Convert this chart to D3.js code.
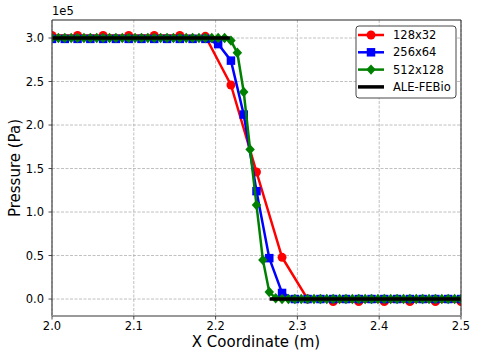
<!DOCTYPE html>
<html>
<head>
<meta charset="utf-8">
<script src="https://cdn.jsdelivr.net/npm/d3@7"></script>
<style>
body { margin: 0; background: #fff; }
text { font-family: "DejaVu Sans", sans-serif; }
</style>
</head>
<body>
<div id="root"></div>
<script>
var width = 480;
var height = 360;

// pressure values are in units of 1e5 Pa
var redX = [2, 2.03125, 2.0625, 2.09375, 2.125, 2.15625, 2.1875, 2.21875, 2.25, 2.28125,
	2.3125, 2.34375, 2.375, 2.40625, 2.4375, 2.46875, 2.5];
var redY = [3.03, 3.03, 3.03, 3.03, 3.03, 3.03, 3.02, 2.46, 1.46, 0.48,
	0.0, -0.03, -0.03, -0.03, -0.03, -0.03, -0.03];

var blueX = [2, 2.015625, 2.03125, 2.046875, 2.0625, 2.078125, 2.09375, 2.109375, 2.125, 2.140625,
	2.15625, 2.171875, 2.1875, 2.203125, 2.21875, 2.234375, 2.25, 2.265625, 2.28125, 2.296875,
	2.3125, 2.328125, 2.34375, 2.359375, 2.375, 2.390625, 2.40625, 2.421875, 2.4375, 2.453125,
	2.46875, 2.484375, 2.5];
var blueY = [2.99, 2.99, 2.99, 2.99, 2.99, 2.99, 2.99, 2.99, 2.99, 2.99,
	2.99, 2.99, 2.99, 2.93, 2.74, 2.12, 1.24, 0.47, 0.07, 0.0,
	0.0, 0.0, 0.0, 0.0, 0.0, 0.0, 0.0, 0.0, 0.0, 0.0,
	0.0, 0.0, 0.0];

var greenX = [2, 2.0078125, 2.015625, 2.0234375, 2.03125, 2.0390625, 2.046875, 2.0546875,
	2.0625, 2.0703125, 2.078125, 2.0859375, 2.09375, 2.1015625, 2.109375, 2.1171875,
	2.125, 2.1328125, 2.140625, 2.1484375, 2.15625, 2.1640625, 2.171875, 2.1796875,
	2.1875, 2.1953125, 2.203125, 2.2109375, 2.21875, 2.2265625, 2.234375, 2.2421875,
	2.25, 2.2578125, 2.265625, 2.2734375, 2.28125, 2.2890625, 2.296875, 2.3046875,
	2.3125, 2.3203125, 2.328125, 2.3359375, 2.34375, 2.3515625, 2.359375, 2.3671875,
	2.375, 2.3828125, 2.390625, 2.3984375, 2.40625, 2.4140625, 2.421875, 2.4296875,
	2.4375, 2.4453125, 2.453125, 2.4609375, 2.46875, 2.4765625, 2.484375, 2.4921875, 2.5];
var greenY = [3.0, 3.0, 3.0, 3.0, 3.0, 3.0, 3.0, 3.0,
	3.0, 3.0, 3.0, 3.0, 3.0, 3.0, 3.0, 3.0,
	3.0, 3.0, 3.0, 3.0, 3.0, 3.0, 3.0, 3.0,
	3.0, 3.0, 3.0, 3.0, 2.97, 2.83, 2.38, 1.72,
	1.08, 0.45, 0.08, 0.01, 0.0, 0.0, 0.0, 0.0,
	0.0, 0.0, 0.0, 0.0, 0.0, 0.0, 0.0, 0.0,
	0.0, 0.0, 0.0, 0.0, 0.0, 0.0, 0.0, 0.0,
	0.0, 0.0, 0.0, 0.0, 0.0, 0.0, 0.0, 0.0, 0.0];

// reference solution, two flat pieces (null = gap)
var aleX = [2.0, 2.2175, null, 2.266, 2.5];
var aleY = [3.0, 3.0, null, 0.0, 0.0];

var xTicks = [2.0, 2.1, 2.2, 2.3, 2.4, 2.5];
var yTicks = [0.0, 0.5, 1.0, 1.5, 2.0, 2.5, 3.0];
var seriesNames = ["128x32", "256x64", "512x128", "ALE-FEBio"];
var seriesColors = ["#ff0000", "#0000ff", "#008000", "#000000"];

// plot area edges
var pL = 52, pR = 461, pT = 20, pB = 316;

var svg = d3.select("#root")
.append("svg")
.attr("width", width)
.attr("height", height);

var x = d3.scaleLinear().domain([2.0, 2.5]).range([pL, pR]);
var y = d3.scaleLinear().domain([-0.195, 3.207]).range([pB, pT]);

/* grid */
var grid = svg.append("g");
grid.selectAll(".gx").data(xTicks).enter().append("line")
.attr("x1", d => x(d)).attr("x2", d => x(d))
.attr("y1", pT).attr("y2", pB)
.attr("stroke", "#b0b0b0").attr("stroke-width", 0.8)
.attr("stroke-dasharray", "3,1.5");
grid.selectAll(".gy").data(yTicks).enter().append("line")
.attr("x1", pL).attr("x2", pR)
.attr("y1", d => y(d)).attr("y2", d => y(d))
.attr("stroke", "#b0b0b0").attr("stroke-width", 0.8)
.attr("stroke-dasharray", "3,1.5");

svg.append("clipPath").attr("id", "clip")
.append("rect").attr("x", pL).attr("y", pT)
.attr("width", pR - pL).attr("height", pB - pT);

var plot = svg.append("g").attr("clip-path", "url(#clip)");

function toPoints(xs, ys) {
	return xs.map((v, i) => [v, ys[i]]);
}

var line = d3.line()
.defined(d => d[0] != null)
.x(d => x(d[0]))
.y(d => y(d[1]));

// matplotlib style "D" marker, roughly as wide as tall
var diamond = {
	draw: function(ctx, size) {
		var r = Math.sqrt(size) / 2;
		ctx.moveTo(0, -r * 1.1);
		ctx.lineTo(r, 0);
		ctx.lineTo(0, r * 1.1);
		ctx.lineTo(-r, 0);
		ctx.closePath();
	}
};

function drawSeries(pts, color, symbol, size, lw) {
	plot.append("path")
	.datum(pts)
	.attr("fill", "none")
	.attr("stroke", color)
	.attr("stroke-width", lw)
	.attr("stroke-linejoin", "round")
	.attr("d", line);
	if (symbol) {
		plot.append("g").selectAll("path")
		.data(pts).enter().append("path")
		.attr("transform", d => "translate(" + x(d[0]) + "," + y(d[1]) + ")")
		.attr("d", d3.symbol().type(symbol).size(size))
		.attr("fill", color);
	}
}

drawSeries(toPoints(redX, redY), seriesColors[0], d3.symbolCircle, 62, 2.5);
drawSeries(toPoints(blueX, blueY), seriesColors[1], d3.symbolSquare, 72, 2.5);
drawSeries(toPoints(greenX, greenY), seriesColors[2], diamond, 90, 2.5);
drawSeries(toPoints(aleX, aleY), seriesColors[3], null, 0, 3.5);

/* spines and ticks */
svg.append("line").attr("x1", pL).attr("x2", pR).attr("y1", pT).attr("y2", pT)
.attr("stroke", "#222").attr("stroke-width", 1);
svg.append("line").attr("x1", pR).attr("x2", pR).attr("y1", pT).attr("y2", pB)
.attr("stroke", "#222").attr("stroke-width", 1);
svg.append("line").attr("x1", pL).attr("x2", pL).attr("y1", pT).attr("y2", pB)
.attr("stroke", "#444").attr("stroke-width", 1.2);
svg.append("line").attr("x1", pL).attr("x2", pR).attr("y1", pB).attr("y2", pB)
.attr("stroke", "#999").attr("stroke-width", 2);

svg.selectAll(".xt").data(xTicks).enter().append("line")
.attr("x1", d => x(d)).attr("x2", d => x(d))
.attr("y1", pB).attr("y2", pB + 3.5)
.attr("stroke", "#222").attr("stroke-width", 0.8);
svg.selectAll(".xl").data(xTicks).enter().append("text")
.attr("x", d => x(d)).attr("y", 330)
.attr("text-anchor", "middle")
.attr("font-size", "11.5px")
.text(d => d3.format(".1f")(d));

svg.selectAll(".yt").data(yTicks).enter().append("line")
.attr("x1", pL - 3.5).attr("x2", pL)
.attr("y1", d => y(d)).attr("y2", d => y(d))
.attr("stroke", "#222").attr("stroke-width", 0.8);
svg.selectAll(".yl").data(yTicks).enter().append("text")
.attr("x", 44).attr("y", d => y(d))
.attr("dy", "0.35em")
.attr("text-anchor", "end")
.attr("font-size", "11.5px")
.text(d => d3.format(".1f")(d));

svg.append("text").attr("x", pL).attr("y", 15)
.attr("font-size", "11.5px").text("1e5");

svg.append("text").attr("x", 256).attr("y", 347)
.attr("text-anchor", "middle").attr("font-size", "15px")
.text("X Coordinate (m)");
svg.append("text")
.attr("transform", "translate(20,168) rotate(-90)")
.attr("text-anchor", "middle").attr("font-size", "15px")
.text("Pressure (Pa)");

/* legend */
var legend = svg.append("g");
legend.append("rect")
.attr("x", 356).attr("y", 26).attr("width", 100).attr("height", 72)
.attr("rx", 3).attr("fill", "white").attr("stroke", "#333").attr("stroke-width", 0.9);

var legendSymbols = [d3.symbolCircle, d3.symbolSquare, diamond, null];
var legendSizes = [62, 72, 90, 0];
seriesNames.forEach(function(name, i) {
	var cy = 35 + i * 17.3;
	legend.append("line")
	.attr("x1", 358).attr("x2", 384).attr("y1", cy).attr("y2", cy)
	.attr("stroke", seriesColors[i]).attr("stroke-width", i == 3 ? 3.5 : 2.5);
	if (legendSymbols[i]) {
		legend.append("path")
		.attr("transform", "translate(371," + cy + ")")
		.attr("d", d3.symbol().type(legendSymbols[i]).size(legendSizes[i]))
		.attr("fill", seriesColors[i]);
	}
	legend.append("text")
	.attr("x", 393).attr("y", cy).attr("dy", "0.36em")
	.attr("font-size", "11.5px")
	.text(name);
});
</script>
</body>
</html>
